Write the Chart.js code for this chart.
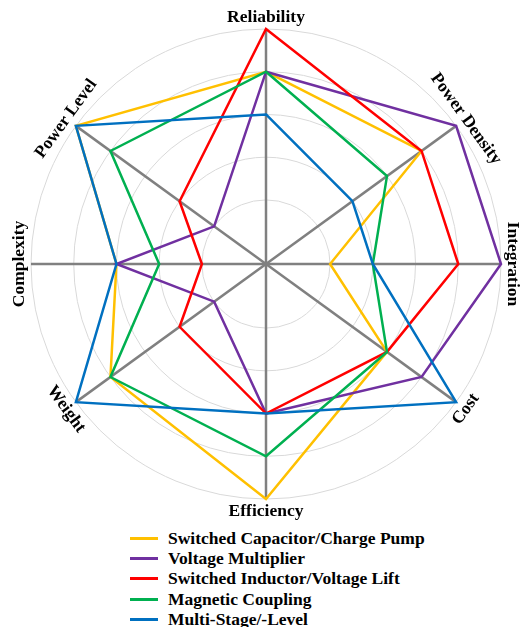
<!DOCTYPE html>
<html>
<head>
<meta charset="utf-8">
<script src="https://cdn.jsdelivr.net/npm/chart.js@4.4.1/dist/chart.umd.min.js"></script>
<style>
    html, body { margin: 0; padding: 0; background: #fff; overflow: hidden; }
    .wrap { position: relative; width: 521px; height: 627px; }
    #radar { position: absolute; left: 0; top: 0; }
    .legend {
        position: absolute; left: 130px; top: 528px; margin: 0; padding: 0; list-style: none;
        font: bold 17.5px "Liberation Serif", "Times New Roman", serif; color: #000;
    }
    .legend li { height: 20.3px; display: flex; align-items: center; white-space: nowrap; }
    .legend .swatch { display: inline-block; width: 28px; height: 3px; margin-right: 10px; }
</style>
</head>
<body>
<div class="wrap">
    <canvas id="radar" width="521" height="525"></canvas>
    <ul class="legend"></ul>
</div>
<script>
const categories = ["Reliability", "Power Density", "Integration", "Cost", "Efficiency", "Weight", "Complexity", "Power Level"];
const seriesNames = ["Switched Capacitor/Charge Pump", "Voltage Multiplier", "Switched Inductor/Voltage Lift", "Magnetic Coupling", "Multi-Stage/-Level"];
const switchedCapacitor = [4, 4, 1, 3, 5, 4, 3, 5];
const voltageMultiplier = [4, 5, 5, 4, 3, 1, 3, 1];
const switchedInductor = [5, 4, 4, 3, 3, 2, 1, 2];
const magneticCoupling = [4, 3, 2, 3, 4, 4, 2, 4];
const multiStage = [3, 2, 2, 5, 3, 5, 3, 5];
const ringValues = [1, 2, 3, 4, 5];

const colors = ["#FFC000", "#7030A0", "#FF0000", "#00B050", "#0070C0"];
const seriesValues = [switchedCapacitor, voltageMultiplier, switchedInductor, magneticCoupling, multiStage];

// the diagonal axes sit ~36deg off horizontal, not 45, so use 20 spokes and only fill 8 of them
const spokeCount = 20;
const axisSpoke = [0, 3, 5, 7, 10, 13, 15, 17];

const labels = new Array(spokeCount).fill("");
axisSpoke.forEach((s, k) => { labels[s] = categories[k]; });

const spread = (vals) => {
    const out = new Array(spokeCount).fill(null);
    axisSpoke.forEach((s, k) => { out[s] = vals[k]; });
    return out;
};

const axisTitles = {
    id: "axisTitles",
    afterDraw(chart) {
        const scale = chart.scales.r;
        const ctx = chart.ctx;
        ctx.font = 'bold 17.5px "Liberation Serif", "Times New Roman", serif';
        ctx.fillStyle = "#000";
        ctx.textAlign = "center";
        ctx.textBaseline = "middle";
        chart.data.labels.forEach((label, i) => {
            if (!label) return;
            const pos = scale.getPointPosition(i, scale.drawingArea + 12);
            let a = scale.getIndexAngle(i);
            if (a > Math.PI / 2 + 1e-6 && a < 3 * Math.PI / 2 - 1e-6) a -= Math.PI;
            ctx.save();
            ctx.translate(pos.x, pos.y);
            ctx.rotate(a);
            ctx.fillText(label, 0, 0);
            ctx.restore();
        });
    },
};

new Chart(document.getElementById("radar"), {
    type: "radar",
    data: {
        labels: labels,
        datasets: seriesNames.map((name, i) => ({
            label: name,
            data: spread(seriesValues[i]),
            borderColor: colors[i],
            backgroundColor: "rgba(0,0,0,0)",
            borderWidth: 2.5,
            pointRadius: 0,
            pointHoverRadius: 0,
            fill: false,
            spanGaps: true,
            order: seriesNames.length - i,
        })),
    },
    options: {
        responsive: false,
        animation: false,
        layout: { padding: { left: 31, right: 20, top: 29, bottom: 26 } },
        plugins: {
            legend: { display: false },
            tooltip: { enabled: false },
        },
        scales: {
            r: {
                min: -0.5,
                max: 5,
                afterBuildTicks: (s) => {
                    s.ticks = [s.min, ...ringValues].map((v) => ({ value: v }));
                },
                ticks: { display: false },
                grid: {
                    circular: true,
                    color: (c) => (ringValues.includes(c.tick && c.tick.value) ? "#d9d9d9" : "rgba(0,0,0,0)"),
                    lineWidth: 1,
                },
                angleLines: {
                    color: "#808080",
                    lineWidth: (c) => (c.label ? 2.5 : 0),
                },
                pointLabels: { display: false },
            },
        },
    },
    plugins: [axisTitles],
});

const ul = document.querySelector(".legend");
seriesNames.forEach((name, i) => {
    const li = document.createElement("li");
    li.innerHTML = `<span class="swatch" style="background:${colors[i]}"></span>${name}`;
    ul.appendChild(li);
});
</script>
</body>
</html>
